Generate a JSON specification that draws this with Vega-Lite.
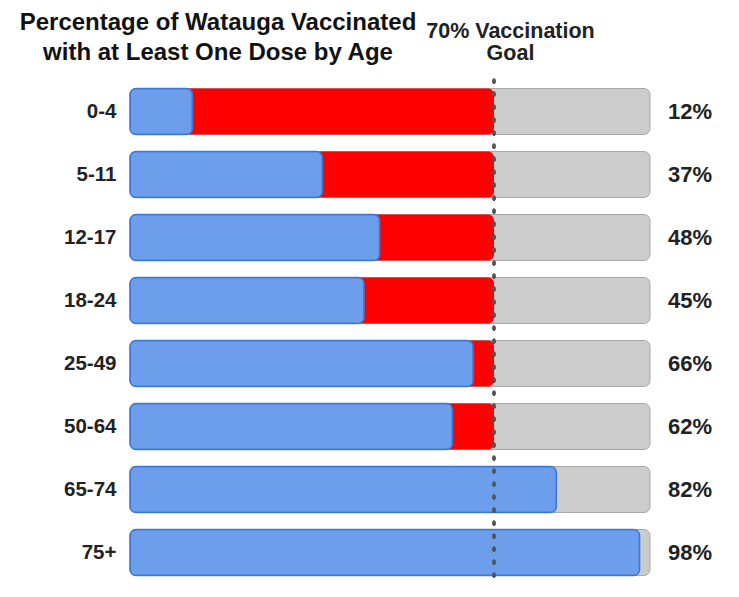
{
  "$schema": "https://vega.github.io/schema/vega-lite/v6.json",
  "autosize": "none",
  "width": 520,
  "height": 504,
  "padding": {"left": 130, "top": 80, "right": 89, "bottom": 13},
  "background": "white",
  "config": {
    "view": {"stroke": null},
    "font": "Liberation Sans"
  },
  "title": {
    "text": ["Percentage of Watauga Vaccinated", "with at Least One Dose by Age"],
    "anchor": "start",
    "frame": "group",
    "align": "center",
    "dx": 88,
    "offset": -45,
    "fontSize": 24,
    "fontWeight": "bold",
    "lineHeight": 30,
    "color": "#111111",
    "font": "Liberation Sans"
  },
  "data": {
    "values": [
      {"age": "0-4", "pct": 12, "label": "12%"},
      {"age": "5-11", "pct": 37, "label": "37%"},
      {"age": "12-17", "pct": 48, "label": "48%"},
      {"age": "18-24", "pct": 45, "label": "45%"},
      {"age": "25-49", "pct": 66, "label": "66%"},
      {"age": "50-64", "pct": 62, "label": "62%"},
      {"age": "65-74", "pct": 82, "label": "82%"},
      {"age": "75+", "pct": 98, "label": "98%"}
    ]
  },
  "layer": [
    {
      "mark": {"type": "bar", "color": "#cccccc", "stroke": "#a8a8a8", "strokeWidth": 1, "cornerRadius": 6},
      "encoding": {
        "y": {
          "field": "age",
          "type": "nominal",
          "sort": null,
          "scale": {"paddingInner": 0.27, "paddingOuter": 0.135},
          "axis": {
            "title": null,
            "ticks": false,
            "domain": false,
            "labelFontSize": 20.5,
            "labelFontWeight": "bold",
            "labelColor": "#222222",
            "labelPadding": 14,
            "labelFont": "Liberation Sans"
          }
        },
        "x": {
          "datum": 100,
          "type": "quantitative",
          "scale": {"domain": [0, 100], "nice": false},
          "axis": {
            "orient": "top",
            "values": [70],
            "labelExpr": "['70% Vaccination', 'Goal']",
            "labelFontSize": 21.5,
            "labelFontWeight": "bold",
            "labelLineHeight": 22,
            "labelColor": "#222222",
            "labelFont": "Liberation Sans",
            "labelPadding": 38,
            "labelOffset": 16,
            "ticks": false,
            "domain": false,
            "grid": false,
            "title": null
          }
        }
      }
    },
    {
      "mark": {"type": "bar", "color": "#ff0000", "cornerRadius": 6},
      "encoding": {
        "y": {"field": "age", "type": "nominal", "sort": null},
        "x": {"datum": 70, "type": "quantitative"}
      }
    },
    {
      "mark": {"type": "bar", "color": "#6d9eeb", "stroke": "#3c78d8", "strokeWidth": 1.5, "cornerRadius": 6},
      "encoding": {
        "y": {"field": "age", "type": "nominal", "sort": null},
        "x": {"field": "pct", "type": "quantitative"}
      }
    },
    {
      "mark": {"type": "rule", "color": "#555555", "strokeWidth": 2.5, "strokeDash": [2.5, 10.5], "strokeCap": "round"},
      "encoding": {
        "x": {"datum": 70, "type": "quantitative"}
      }
    },
    {
      "mark": {"type": "text", "align": "left", "dx": 18, "fontSize": 22, "fontWeight": "bold", "color": "#222222", "font": "Liberation Sans"},
      "encoding": {
        "y": {"field": "age", "type": "nominal", "sort": null},
        "x": {"datum": 100, "type": "quantitative"},
        "text": {"field": "label", "type": "nominal"}
      }
    }
  ]
}
